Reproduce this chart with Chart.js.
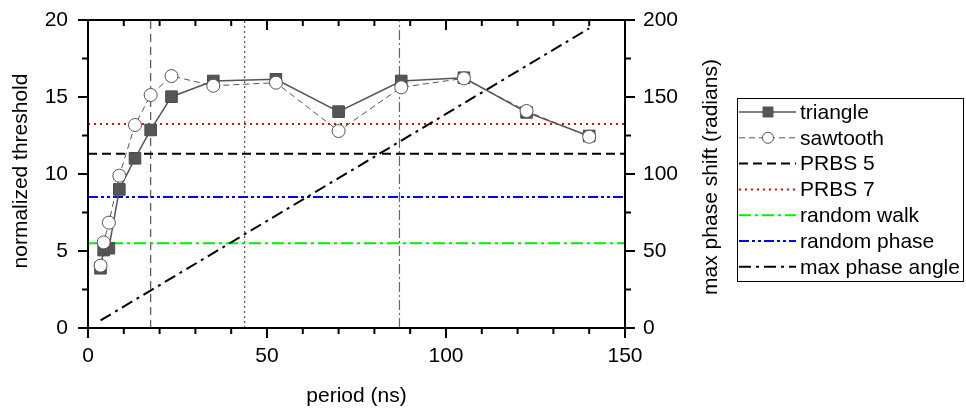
<!DOCTYPE html>
<html>
<head>
<meta charset="utf-8">
<script src="https://cdn.jsdelivr.net/npm/chart.js@4.4.1/dist/chart.umd.min.js"></script>
<style>
    html, body { margin: 0; padding: 0; background: #fff; }
    #wrap { position: relative; width: 966px; height: 409px; }
</style>
</head>
<body>
<div id="wrap"><canvas id="thresholdChart"></canvas></div>
<script>
// Data
const periods = [3.5, 4.375, 5.833, 8.75, 13.125, 17.5, 23.33, 35, 52.5, 70, 87.5, 105, 122.5, 140];
const triangle = [3.88, 5.06, 5.18, 9.0, 11.02, 12.86, 15.02, 16.04, 16.15, 14.05, 16.04, 16.25, 14.0, 12.47];
const sawtooth = [4.05, 5.56, 6.84, 9.89, 13.18, 15.13, 16.36, 15.73, 15.93, 12.79, 15.63, 16.21, 14.09, 12.42];

const levelPeriods = [0, 150];
const prbs5 = 11.32;
const prbs7 = 13.25;
const randomWalk = 5.5;
const randomPhase = 8.51;

const phasePeriods = [3.5, 140];
const maxPhaseAngle = [4.9, 194.6];

const markerPeriods = [17.5, 43.75, 87];
const markerLevels = [0, 20];

const xLabels = [0, 50, 100, 150];
const yLabels = [0, 5, 10, 15, 20];
const y1Labels = [0, 50, 100, 150, 200];

const FONT = '"Liberation Sans", Arial, sans-serif';
const GRAY = '#555555';

const pairs = (xs, ys) => xs.map((x, i) => ({ x: x, y: ys[i] }));
const flat = (xs, v) => xs.map(x => ({ x: x, y: v }));

function refLine(label, value, color, dash) {
    return {
        label: label,
        data: flat(levelPeriods, value),
        borderColor: color,
        borderWidth: 2,
        borderDash: dash,
        pointRadius: 0,
        order: 5,
        inLegend: true
    };
}

function vLine(period, dash, color) {
    return {
        label: 'v' + period,
        data: markerLevels.map(v => ({ x: period, y: v })),
        borderColor: color,
        borderWidth: 1.2,
        borderDash: dash,
        pointRadius: 0,
        order: 9,
        inLegend: false
    };
}

// keep the plot box where the figure has it
function fixBox(size, dim) {
    return s => {
        s[dim] = size;
        s.paddingTop = 0;
        s.paddingBottom = 0;
        s.paddingLeft = 0;
        s.paddingRight = 0;
    };
}

// frame, ticks, titles and legend drawn on top of the chart
const framePlugin = {
    id: 'frame',
    afterDraw(chart) {
        const ctx = chart.ctx;
        const area = chart.chartArea;
        const sx = chart.scales.x, sy = chart.scales.y, sy1 = chart.scales.y1;
        ctx.save();
        ctx.strokeStyle = '#000';
        ctx.lineWidth = 2;
        ctx.setLineDash([]);
        ctx.strokeRect(area.left, area.top, area.right - area.left, area.bottom - area.top);

        ctx.beginPath();
        sx.ticks.forEach(t => {
            const px = sx.getPixelForValue(t.value);
            const len = xLabels.includes(t.value) ? 10 : 6;
            ctx.moveTo(px, area.bottom); ctx.lineTo(px, area.bottom + len);
            ctx.moveTo(px, area.top); ctx.lineTo(px, area.top + len);
        });
        sy.ticks.forEach(t => {
            const py = sy.getPixelForValue(t.value);
            const len = yLabels.includes(t.value) ? 10 : 6;
            ctx.moveTo(area.left, py); ctx.lineTo(area.left - len, py);
        });
        sy1.ticks.forEach(t => {
            const py = sy1.getPixelForValue(t.value);
            const len = y1Labels.includes(t.value) ? 10 : 6;
            ctx.moveTo(area.right, py); ctx.lineTo(area.right + len, py);
        });
        ctx.stroke();

        // axis titles
        ctx.fillStyle = '#000';
        ctx.font = '21px ' + FONT;
        ctx.textAlign = 'center';
        ctx.textBaseline = 'middle';
        const midY = (area.top + area.bottom) / 2;
        ctx.save();
        ctx.translate(21, midY - 3);
        ctx.rotate(-Math.PI / 2);
        ctx.fillText('normalized threshold', 0, 0);
        ctx.restore();
        ctx.save();
        ctx.translate(711, midY + 3);
        ctx.rotate(-Math.PI / 2);
        ctx.fillText('max phase shift (radians)', 0, 0);
        ctx.restore();
        ctx.fillText('period (ns)', (area.left + area.right) / 2, 396);

        // legend
        const items = chart.data.datasets.filter(d => d.inLegend);
        const box = { left: 737, top: 98, width: 226, height: 183 };
        ctx.lineWidth = 1;
        ctx.strokeStyle = '#000';
        ctx.strokeRect(box.left + 0.5, box.top + 0.5, box.width, box.height);
        ctx.textAlign = 'left';
        items.forEach((ds, i) => {
            const y = 112 + i * 25.8;
            ctx.save();
            ctx.strokeStyle = ds.borderColor;
            ctx.lineWidth = ds.borderWidth;
            ctx.setLineDash(ds.borderDash || []);
            ctx.beginPath();
            ctx.moveTo(739, y);
            ctx.lineTo(796, y);
            ctx.stroke();
            ctx.setLineDash([]);
            if (ds.pointRadius > 0) {
                ctx.fillStyle = ds.pointBackgroundColor;
                ctx.strokeStyle = ds.pointBorderColor;
                ctx.lineWidth = ds.pointBorderWidth;
                Chart.helpers.drawPoint(ctx, {
                    pointStyle: ds.pointStyle,
                    radius: ds.pointStyle === 'rect' ? 7 : 5.5,
                    borderWidth: ds.pointBorderWidth,
                    rotation: 0
                }, 768, y);
            }
            ctx.restore();
            ctx.fillStyle = '#000';
            ctx.fillText(ds.label, 800, y + 1);
        });
        ctx.restore();
    }
};

const ctx = document.getElementById('thresholdChart');
new Chart(ctx, {
    type: 'line',
    data: {
        datasets: [
            {
                label: 'triangle',
                data: pairs(periods, triangle),
                borderColor: GRAY,
                borderWidth: 1.5,
                pointStyle: 'rect',
                pointRadius: 8.2,
                pointBackgroundColor: GRAY,
                pointBorderColor: '#4a4a4a',
                pointBorderWidth: 1,
                order: 2,
                inLegend: true
            },
            {
                label: 'sawtooth',
                data: pairs(periods, sawtooth),
                borderColor: GRAY,
                borderWidth: 1,
                borderDash: [6, 4],
                pointStyle: 'circle',
                pointRadius: 6.5,
                pointBackgroundColor: '#ffffff',
                pointBorderColor: GRAY,
                pointBorderWidth: 1,
                order: 1,
                inLegend: true
            },
            refLine('PRBS 5', prbs5, '#000000', [9, 5]),
            refLine('PRBS 7', prbs7, '#ff0000', [2, 4]),
            refLine('random walk', randomWalk, '#00ee00', [12, 4, 3, 4]),
            refLine('random phase', randomPhase, '#0000ff', [10, 3, 3, 3, 3, 3]),
            {
                label: 'max phase angle',
                data: pairs(phasePeriods, maxPhaseAngle),
                yAxisID: 'y1',
                borderColor: '#000000',
                borderWidth: 2,
                borderDash: [12, 5, 3, 5],
                pointRadius: 0,
                order: 4,
                inLegend: true
            },
            vLine(markerPeriods[0], [8, 5], GRAY),
            vLine(markerPeriods[1], [2, 3], GRAY),
            vLine(markerPeriods[2], [10, 3, 2, 3], '#666666')
        ]
    },
    options: {
        responsive: true,
        maintainAspectRatio: false,
        animation: false,
        events: [],
        layout: {
            padding: { top: 20, left: 0, right: 241, bottom: 0 }
        },
        plugins: {
            legend: { display: false },
            tooltip: { enabled: false }
        },
        scales: {
            x: {
                type: 'linear',
                min: 0,
                max: 150,
                grid: { display: false, drawTicks: false },
                border: { display: false },
                afterFit: fixBox(81, 'height'),
                ticks: {
                    stepSize: 10,
                    autoSkip: false,
                    maxRotation: 0,
                    padding: 16,
                    color: '#000',
                    font: { family: FONT, size: 21 },
                    callback: v => xLabels.includes(v) ? String(v) : ''
                }
            },
            y: {
                min: 0,
                max: 20,
                grid: { display: false, drawTicks: false },
                border: { display: false },
                afterFit: fixBox(88, 'width'),
                ticks: {
                    stepSize: 2.5,
                    autoSkip: false,
                    padding: 20,
                    color: '#000',
                    font: { family: FONT, size: 21 },
                    callback: v => yLabels.includes(v) ? String(v) : ''
                }
            },
            y1: {
                position: 'right',
                min: 0,
                max: 200,
                grid: { display: false, drawTicks: false },
                border: { display: false },
                afterFit: fixBox(100, 'width'),
                ticks: {
                    stepSize: 25,
                    autoSkip: false,
                    padding: 18,
                    color: '#000',
                    font: { family: FONT, size: 21 },
                    callback: v => y1Labels.includes(v) ? String(v) : ''
                }
            }
        }
    },
    plugins: [framePlugin]
});
</script>
</body>
</html>
